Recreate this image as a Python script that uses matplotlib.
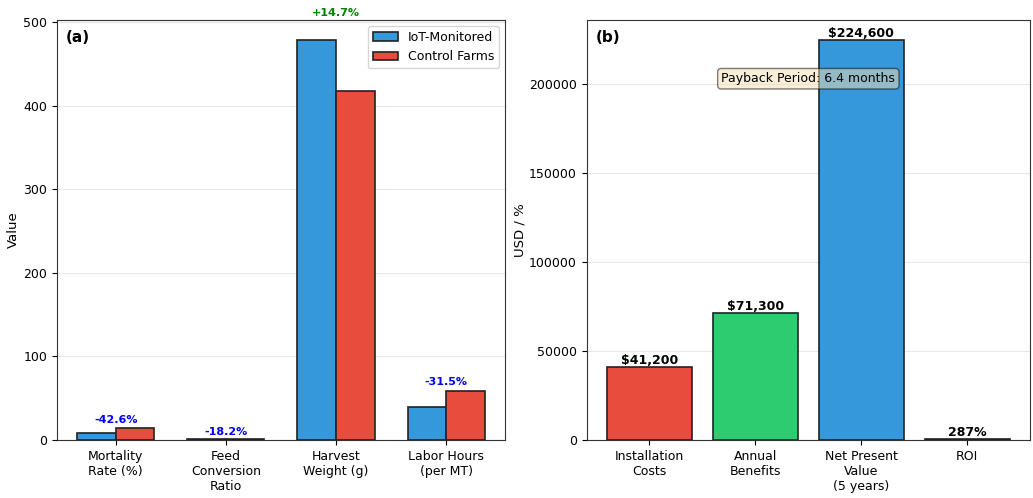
import numpy as np
import matplotlib
matplotlib.use("Agg")
import matplotlib.pyplot as plt

# panel (a) data
metricas = ["Mortality\nRate (%)", "Feed\nConversion\nRatio", "Harvest\nWeight (g)", "Labor Hours\n(per MT)"]
iot = [8.5, 1.35, 479.0, 39.8]
kontroll = [14.8, 1.65, 417.6, 58.1]

# panel (b) data
poster = ["Installation\nCosts", "Annual\nBenefits", "Net Present\nValue\n(5 years)", "ROI"]
belopp = [41200, 71300, 224600, 287]
etiketter = ["$41,200", "$71,300", "$224,600", "287%"]
payback = 6.4

blå = "#3498db"
röd = "#e74c3c"
grön = "#2ecc71"
lila = "#9b59b6"

fig = plt.figure(figsize=(10.33, 4.98), dpi=100)
ax1 = fig.add_axes([0.055, 0.1165, 0.434, 0.8435])
ax2 = fig.add_axes([0.568, 0.1165, 0.429, 0.8435])

x = np.arange(len(metricas))
w = 0.35
ax1.bar(x - w/2, iot, w, color=blå, edgecolor="#222222", linewidth=1.2, label="IoT-Monitored", zorder=3)
ax1.bar(x + w/2, kontroll, w, color=röd, edgecolor="#222222", linewidth=1.2, label="Control Farms", zorder=3)
for i in range(len(metricas)):
    diff = (iot[i] - kontroll[i]) / kontroll[i] * 100
    färg = "green" if diff > 0 else "blue"
    topp = max(iot[i], kontroll[i])
    ax1.text(x[i], topp * 1.05 + 2, f"{diff:+.1f}%", ha="center", va="bottom",
             color=färg, fontsize=8, fontweight="bold")
ax1.set_xticks(x)
ax1.set_xticklabels(metricas, fontsize=9)
ax1.set_ylabel("Value", fontsize=9.5, labelpad=2)
ax1.legend(loc="upper right", fontsize=9)
ax1.grid(axis="y", alpha=0.3, zorder=0)
ax1.text(0.02, 0.975, "(a)", transform=ax1.transAxes, fontsize=11, fontweight="bold", va="top")

xb = np.arange(len(poster))
ax2.bar(xb, belopp, 0.8, color=[röd, grön, blå, lila], edgecolor="#222222", linewidth=1.2, zorder=3)
for i in range(len(poster)):
    ax2.text(xb[i], belopp[i], etiketter[i], ha="center", va="bottom", fontsize=9, fontweight="bold")
ax2.set_xticks(xb)
ax2.set_xticklabels(poster, fontsize=9)
ax2.set_ylabel("USD / %", fontsize=9.5, labelpad=2)
ax2.grid(axis="y", alpha=0.3, zorder=0)
ax2.text(0.02, 0.975, "(b)", transform=ax2.transAxes, fontsize=11, fontweight="bold", va="top")
ax2.text(0.5, 0.86, f"Payback Period: {payback} months", transform=ax2.transAxes, ha="center", va="center",
         fontsize=9, bbox=dict(boxstyle="round", facecolor="wheat", alpha=0.5), zorder=5)

for ax in (ax1, ax2):
    ax.tick_params(labelsize=9)
    for s in ax.spines.values():
        s.set_color("#333333")

plt.savefig("out.png", dpi=100)
